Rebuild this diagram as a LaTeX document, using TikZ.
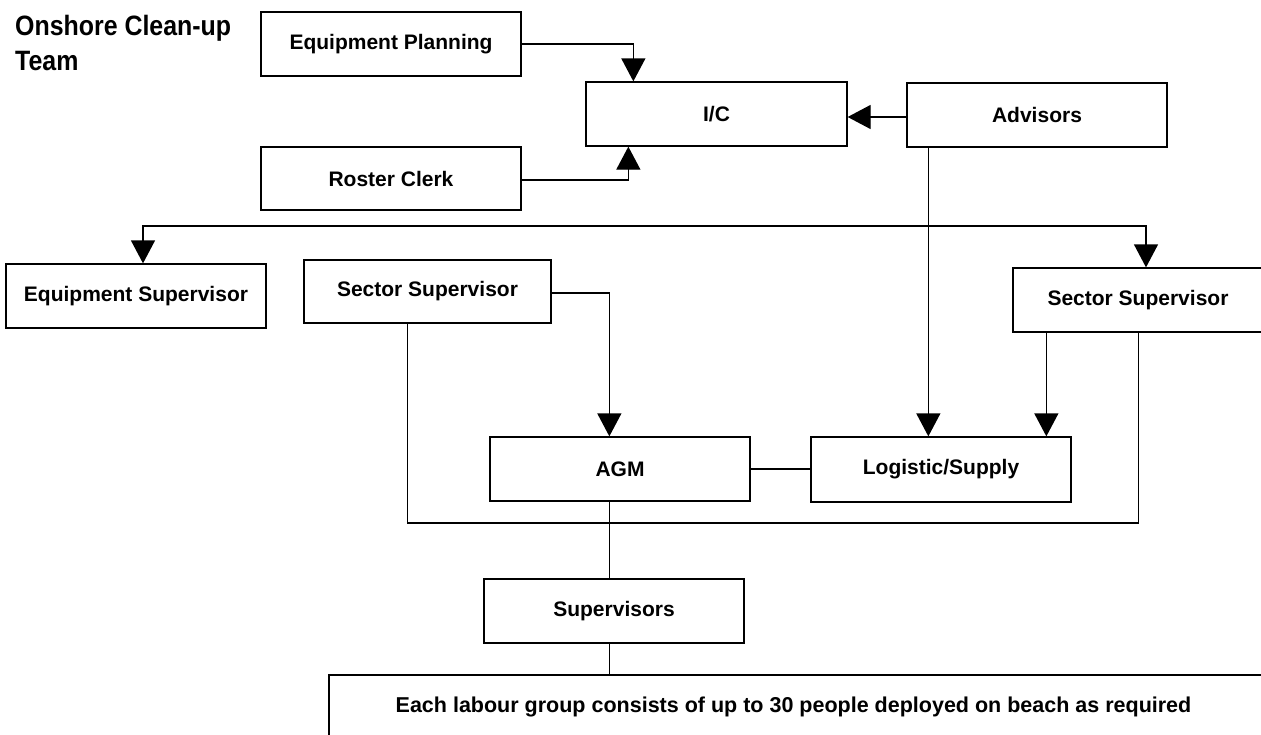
\documentclass[tikz,border=0pt]{standalone}
\usepackage{fontspec}
\setmainfont{Liberation Sans}
\newfontfamily\titlefont[FakeStretch=0.89]{Liberation Sans}
\usetikzlibrary{arrows.meta,calc}
\begin{document}
\begin{tikzpicture}[x=1pt,y=-1pt,
  box/.style={draw,line width=1.3pt,rectangle,inner sep=0pt,
    minimum width=260pt,minimum height=64pt,
    font=\fontsize{21}{25}\selectfont\bfseries},
  link/.style={line width=1.3pt},
  arr/.style={link,-{Triangle[length=23pt,width=24pt]}},
  arrboth/.style={link,{Triangle[length=23pt,width=24pt]}-{Triangle[length=23pt,width=24pt]}}]
\useasboundingbox (0,0) rectangle (1261,734);

% title
\node[anchor=north west,inner sep=0pt,align=left,
      font=\titlefont\fontsize{28}{35}\selectfont\bfseries] (title) at (15,15)
  {Onshore Clean-up\\Team};

% boxes
\node[box] (ep)  at (391,44)    {Equipment Planning};
\node[box,minimum width=261pt] (ic) at (716.5,114) {I/C};
\node[box] (adv) at (1037,115)  {Advisors};
\node[box,minimum height=63pt] (rc) at (391,178.5) {Roster Clerk};
\node[box] (eqs) at (136,296)   {Equipment Supervisor};
\node[box,minimum width=247pt,minimum height=63pt] (ss1) at (427.5,291.5) {Sector Supervisor};
\node[box,minimum width=250pt] (ss2) at (1138,300) {Sector Supervisor};
\node[box] (agm) at (620,469)   {AGM};
\node[box,minimum height=65pt] (log) at (941,469.5) {Logistic/Supply};
\node[box] (sup) at (614,611)   {Supervisors};
\node[draw,line width=1.3pt,rectangle,inner sep=0pt,
      minimum width=971pt,minimum height=125pt] (labour) at (814.5,737.5) {};
\node[font=\fontsize{21.5}{25}\selectfont\bfseries,inner sep=0pt] (labourtext)
  at (793.5,706.5) {Each labour group consists of up to 30 people deployed on beach as required};

% reporting lines into I/C
\draw[arr] (ep.east) -| ($(ic.north west)+(48,0)$);
\draw[arr] ([yshift=-1.5pt]rc.east) -| ($(ic.south west)+(43,0)$);
\draw[arr] ([yshift=-2pt]adv.west) -- ([yshift=-2pt]adv.west -| ic.east);

% distribution line
\coordinate (busL) at (143,226);
\coordinate (busR) at (1146,226);
\draw[arrboth] (busL |- eqs.north) -- (busL) -- (busR) -- (busR |- ss2.north);

% advisors down to logistics
\coordinate (advdown) at ($(adv.south west)+(22,0)$);
\draw[arr] (advdown) -- (advdown |- log.north);

% sector supervisor (left) to AGM
\coordinate (spine) at ($(agm.north west)+(120,0)$);
\draw[arr] ([yshift=-1.5pt]ss1.east) -| (spine);

% sector supervisor (right) to logistics
\coordinate (ss2a) at ($(ss2.south west)+(34,0)$);
\draw[arr] (ss2a) -- (ss2a |- log.north);

% loop joining both sector supervisors
\coordinate (loopy) at (0,523);
\coordinate (ss1b) at ($(ss1.south west)+(104,0)$);
\coordinate (ss2b) at ($(ss2.south west)+(126,0)$);
\draw[link] (ss1b) -- (ss1b |- loopy) -- (ss2b |- loopy) -- (ss2b);

% AGM and logistics
\draw[link] (agm.east) -- (log.west |- agm.east);

% AGM down to supervisors and labour groups
\draw[link] (spine |- agm.south) -- (spine |- sup.north);
\draw[link] (spine |- sup.south) -- (spine |- labour.north);
\end{tikzpicture}
\end{document}
